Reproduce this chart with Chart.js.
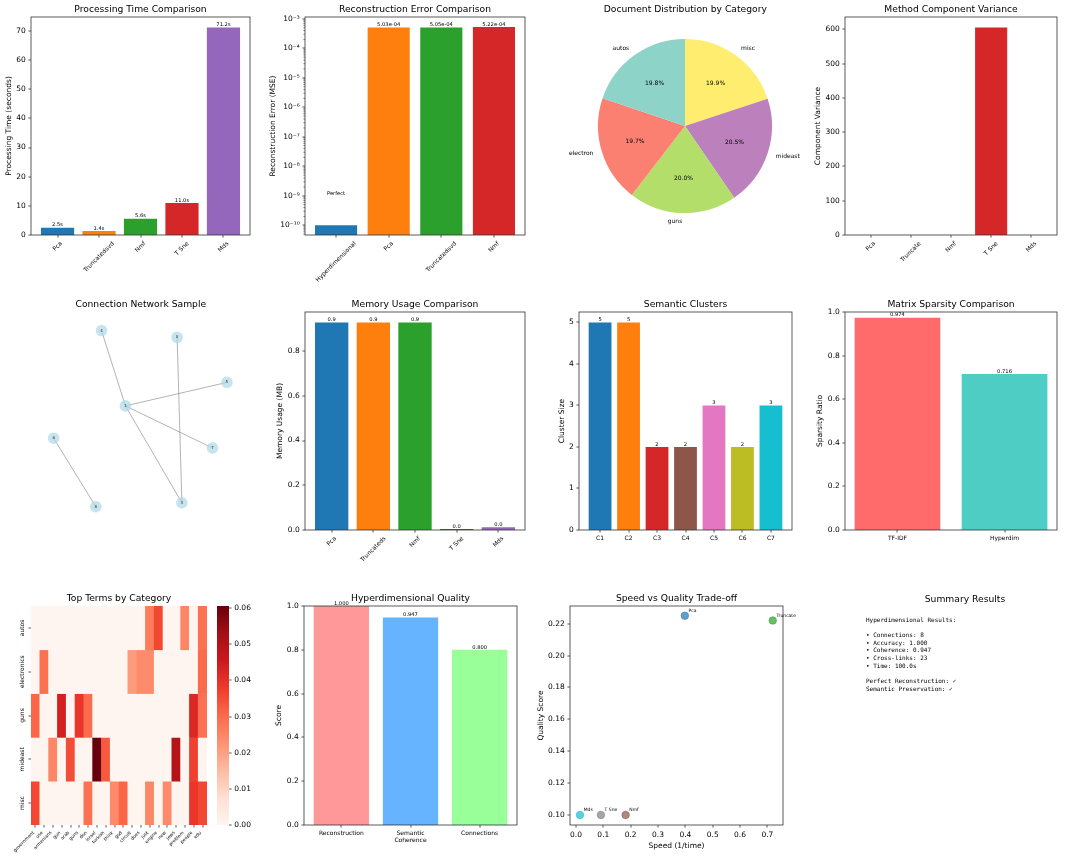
<!DOCTYPE html>
<html><head><meta charset="utf-8">
<script src="https://cdn.jsdelivr.net/npm/chart.js@4.4.0/dist/chart.umd.min.js"></script>
<style>
html,body{margin:0;padding:0;background:#fff;width:1080px;height:859px;overflow:hidden;position:relative;}
canvas{position:absolute;}
</style></head><body>
<script>
// ---------------- DATA ----------------
const timeMethods = ['Pca', 'Truncatedsvd', 'Nmf', 'T Sne', 'Mds'];
const timeValues = [2.5, 1.4, 5.6, 11.0, 71.2];
const timeTicks = [0, 10, 20, 30, 40, 50, 60, 70];

const errorMethods = ['Hyperdimensional', 'Pca', 'Truncatedsvd', 'Nmf'];
const errorValues = [1e-10, 5.03e-4, 5.05e-4, 5.22e-4];
const errorTicks = [1e-10, 1e-9, 1e-8, 1e-7, 1e-6, 1e-5, 1e-4, 1e-3];

const pieCategories = ['autos', 'electron', 'guns', 'mideast', 'misc'];
const piePercents = [19.8, 19.7, 20.0, 20.5, 19.9];

const varianceMethods = ['Pca', 'Truncate', 'Nmf', 'T Sne', 'Mds'];
const varianceValues = [0.01, 0.01, 0.001, 606, 0.02];
const varianceTicks = [0, 100, 200, 300, 400, 500, 600];

const nodeIds = ['4', '0', '5', '1', '6', '7', '3', '8'];
const nodeX = [-0.35, 0.44, 0.96, -0.10, -0.85, 0.81, 0.49, -0.41];
const nodeY = [1.19, 1.12, 0.66, 0.42, 0.09, -0.01, -0.57, -0.61];
const edges = [['4', '1'], ['1', '3'], ['1', '5'], ['1', '7'], ['0', '3'], ['6', '8']];

const memoryMethods = ['Pca', 'Truncateds', 'Nmf', 'T Sne', 'Mds'];
const memoryValues = [0.928, 0.928, 0.928, 0.005, 0.012];
const memoryTicks = [0, 0.2, 0.4, 0.6, 0.8];

const clusterLabels = ['C1', 'C2', 'C3', 'C4', 'C5', 'C6', 'C7'];
const clusterSizes = [5, 5, 2, 2, 3, 2, 3];
const clusterTicks = [0, 1, 2, 3, 4, 5];

const sparsityLabels = ['TF-IDF', 'Hyperdim'];
const sparsityValues = [0.974, 0.716];
const sparsityTicks = [0, 0.2, 0.4, 0.6, 0.8, 1.0];

const heatCategories = ['autos', 'electronics', 'guns', 'mideast', 'misc'];
const heatTerms = ['government', 'use', 'armenians', 'gun', 'arab', 'guns', 'don', 'israel', 'turkish', 'think',
  'god', 'circuit', 'does', 'just', 'engine', 'new', 'jews', 'problem', 'people', 'edu'];
const heatAutos       = [0, 0, 0, 0, 0, 0, 0, 0, 0, 0, 0, 0, 0, 0.027, 0.036, 0, 0, 0.025, 0, 0.029];
const heatElectronics = [0, 0.029, 0, 0, 0, 0, 0, 0, 0, 0, 0, 0.021, 0.024, 0.024, 0, 0, 0, 0, 0, 0.030];
const heatGuns        = [0.031, 0, 0, 0.044, 0, 0.039, 0.030, 0, 0, 0, 0, 0, 0, 0, 0, 0, 0, 0, 0.042, 0.029];
const heatMideast     = [0, 0, 0.025, 0, 0.035, 0, 0, 0.0606, 0.033, 0, 0, 0, 0, 0, 0, 0, 0.050, 0, 0.037, 0];
const heatMisc        = [0.036, 0, 0, 0, 0, 0, 0.029, 0, 0, 0.024, 0.031, 0, 0, 0.025, 0, 0.024, 0, 0, 0.039, 0.036];
const colorbarTicks = [0, 0.01, 0.02, 0.03, 0.04, 0.05, 0.06];

const qualityLabels = ['Reconstruction', 'Semantic\nCoherence', 'Connections'];
const qualityValues = [1.0, 0.947, 0.800];
const scoreTicks = [0, 0.2, 0.4, 0.6, 0.8, 1.0];

const scatterMethods = ['Pca', 'Truncate', 'Nmf', 'T Sne', 'Mds'];
const scatterSpeed = [0.398, 0.7195, 0.1815, 0.091, 0.0146];
const scatterQuality = [0.225, 0.222, 0.100, 0.100, 0.100];
const speedTicks = [0, 0.1, 0.2, 0.3, 0.4, 0.5, 0.6, 0.7];
const qualityTicks = [0.10, 0.12, 0.14, 0.16, 0.18, 0.20, 0.22];

const summaryTitle = 'Summary Results';
const summaryLines = [
  'Hyperdimensional Results:', '',
  '• Connections: 8', '• Accuracy: 1.000', '• Coherence: 0.947', '• Cross-links: 23', '• Time: 100.0s', '',
  'Perfect Reconstruction: ✓', 'Semantic Preservation: ✓'
];

// ---------------- STYLE ----------------
const TAB10 = ['#1f77b4', '#ff7f0e', '#2ca02c', '#d62728', '#9467bd', '#8c564b', '#e377c2', '#7f7f7f', '#bcbd22', '#17becf'];
const SET3 = {autos: '#8dd3c7', electron: '#fb8072', guns: '#b3de69', mideast: '#bc80bd', misc: '#ffed6f'};
const REDS = ['#fff5f0', '#fee0d2', '#fcbba1', '#fc9272', '#fb6a4a', '#ef3b2c', '#cb181d', '#a50f15', '#67000d'];
const FONTNAME = 'DejaVu Sans';
const f = s => `${s}px '${FONTNAME}', sans-serif`;

Chart.defaults.font.family = FONTNAME;
Chart.defaults.color = '#000';
Chart.defaults.animation = false;
Chart.defaults.responsive = false;
Chart.defaults.plugins.legend.display = false;
Chart.defaults.plugins.tooltip.enabled = false;

function hexToRgb(h) { return [1, 3, 5].map(k => parseInt(h.slice(k, k + 2), 16)); }
function reds(t) {
  t = Math.max(0, Math.min(1, t));
  const p = t * (REDS.length - 1);
  const i = Math.min(REDS.length - 2, Math.floor(p));
  const fr = p - i;
  const a = hexToRgb(REDS[i]), b = hexToRgb(REDS[i + 1]);
  return `rgb(${a.map((v, k) => Math.round(v + (b[k] - v) * fr)).join(',')})`;
}
function alpha(hex, a) { const [r, g, b] = hexToRgb(hex); return `rgba(${r},${g},${b},${a})`; }
const SUP = {'-': '⁻', '0': '⁰', '1': '¹', '2': '²', '3': '³', '4': '⁴', '5': '⁵', '6': '⁶', '7': '⁷', '8': '⁸', '9': '⁹'};
const logFmt = v => '10' + String(Math.round(Math.log10(v))).split('').map(c => SUP[c]).join('');
function expFmt(v) {
  const [m, e] = v.toExponential(2).split('e');
  const n = parseInt(e, 10);
  return m + 'e' + (n < 0 ? '-' : '+') + String(Math.abs(n)).padStart(2, '0');
}

function makeCanvas(x, y, w, h) {
  const c = document.createElement('canvas');
  c.width = w; c.height = h;
  c.style.left = x + 'px'; c.style.top = y + 'px';
  c.style.width = w + 'px'; c.style.height = h + 'px';
  document.body.appendChild(c);
  return c.getContext('2d');
}

const GRID = {drawOnChartArea: false, tickLength: 2.6, color: '#333', lineWidth: 0, tickColor: '#333', tickWidth: 0.8, offset: false};

function yAxis({type = 'linear', min, max, ticks, fmt, width, position = 'left'}) {
  return {
    type, min, max, position,
    afterBuildTicks: s => { s.ticks = ticks.map(v => ({value: v})); },
    afterFit: s => { s.width = width; },
    ticks: {font: {size: 7.5, family: FONTNAME}, color: '#000', padding: 2.6, callback: fmt, autoSkip: false},
    grid: GRID,
    border: {display: false}
  };
}
function xBarAxis(n, height) {
  const m = 0.05 * (n - 0.2);
  return {
    type: 'linear', min: -0.4 - m, max: n - 0.6 + m, offset: false,
    afterBuildTicks: s => { s.ticks = Array.from({length: n}, (_, i) => ({value: i})); },
    afterFit: s => { s.height = height; },
    ticks: {display: false},
    grid: GRID,
    border: {display: false}
  };
}

function drawXLabels(chart, ctx, cfg) {
  const a = chart.chartArea, xs = chart.scales.x;
  const size = cfg.xLabelSize || 6;
  ctx.font = f(size);
  const y0 = a.bottom + 5.2;
  const h = size * 1.164;
  cfg.xLabels.forEach((lab, i) => {
    const x = xs.getPixelForValue(i);
    if (cfg.xRotate) {
      const w = ctx.measureText(lab).width;
      const d = (w + h) / Math.SQRT2;
      const cx = cfg.xAlign === 'right' ? x - d / 2 : x;
      ctx.save();
      ctx.translate(cx, y0 + d / 2);
      ctx.rotate(-Math.PI / 4);
      ctx.textAlign = 'center'; ctx.textBaseline = 'middle';
      ctx.fillText(lab, 0, 0);
      ctx.restore();
    } else {
      ctx.textAlign = 'center'; ctx.textBaseline = 'top';
      lab.split('\n').forEach((ln, k) => ctx.fillText(ln, x, y0 + k * size * 1.2));
    }
  });
}

function mplPlugin(cfg) {
  return {
    id: 'mpl',
    afterDraw(chart) {
      const ctx = chart.ctx, a = chart.chartArea;
      ctx.save();
      ctx.fillStyle = '#000';
      if (cfg.frame) {
        ctx.strokeStyle = '#333'; ctx.lineWidth = 0.8;
        ctx.strokeRect(a.left, a.top, a.right - a.left, a.bottom - a.top);
      }
      if (cfg.title) {
        ctx.font = f(9.2); ctx.textAlign = 'center'; ctx.textBaseline = 'alphabetic';
        ctx.fillText(cfg.title, cfg.titleX !== undefined ? cfg.titleX : (a.left + a.right) / 2,
          cfg.titleY !== undefined ? cfg.titleY : a.top - 4.6);
      }
      if (cfg.xLabels) drawXLabels(chart, ctx, cfg);
      if (cfg.yLabels) {
        const ys = chart.scales.y;
        ctx.font = f(6);
        const h = 6 * 1.164;
        cfg.yLabels.forEach((lab, i) => {
          ctx.save();
          ctx.translate(a.left - 5.2 - h / 2, ys.getPixelForValue(i + 0.5));
          ctx.rotate(-Math.PI / 2);
          ctx.textAlign = 'center'; ctx.textBaseline = 'middle';
          ctx.fillText(lab, 0, 0);
          ctx.restore();
        });
      }
      if (cfg.yTitle) {
        const ys = chart.scales.y;
        ctx.font = f(7.5);
        let maxW = 0;
        ys.ticks.forEach(t => { maxW = Math.max(maxW, ctx.measureText(String(t.label)).width); });
        const h = 7.5 * 1.164;
        ctx.save();
        ctx.translate(a.left - 5.2 - maxW - 3 - h / 2, (a.top + a.bottom) / 2);
        ctx.rotate(-Math.PI / 2);
        ctx.textAlign = 'center'; ctx.textBaseline = 'middle';
        ctx.fillText(cfg.yTitle, 0, 0);
        ctx.restore();
      }
      if (cfg.xTitle) {
        ctx.font = f(7.5); ctx.textAlign = 'center'; ctx.textBaseline = 'top';
        ctx.fillText(cfg.xTitle, (a.left + a.right) / 2, a.bottom + 5.2 + 8.7 + 3);
      }
      if (cfg.texts) {
        const xs = chart.scales.x, ys = chart.scales.y;
        ctx.font = f(5.2); ctx.textAlign = 'center'; ctx.textBaseline = 'bottom';
        cfg.texts.forEach((t, i) => ctx.fillText(t, xs.getPixelForValue(i), ys.getPixelForValue(cfg.textVals[i])));
      }
      if (cfg.after) cfg.after(chart, ctx);
      ctx.restore();
    }
  };
}

function barPanel(o) {
  const [cx, cy, cw, ch] = o.cell;
  const [L, T, R, B] = o.box;
  const n = o.labels.length;
  const ctx = makeCanvas(cx, cy, cw, ch);
  return new Chart(ctx, {
    type: 'bar',
    data: {datasets: [{
      data: o.values.map((v, i) => ({x: i, y: v})),
      backgroundColor: o.colors, borderWidth: 0, barPercentage: 0.8, categoryPercentage: 1, inflateAmount: 0
    }]},
    options: {
      layout: {padding: {left: 0, top: T - cy, right: cx + cw - R, bottom: 0}},
      scales: {
        x: xBarAxis(n, cy + ch - B),
        y: yAxis({type: o.yType || 'linear', min: o.yMin, max: o.yMax, ticks: o.yTicks, fmt: o.yFmt, width: L - cx})
      }
    },
    plugins: [mplPlugin({title: o.title, yTitle: o.yTitle, xLabels: o.labels, xRotate: o.xRotate, frame: true,
      texts: o.texts, textVals: o.textVals || o.values, after: o.after})]
  });
}

// ---------------- PANEL 1: processing time ----------------
barPanel({
  cell: [0, 0, 270, 290], box: [31, 17, 250, 235],
  labels: timeMethods, values: timeValues, colors: TAB10.slice(0, 5),
  yMin: 0, yMax: Math.max(...timeValues) * 1.05, yTicks: timeTicks, yFmt: v => String(v),
  title: 'Processing Time Comparison', yTitle: 'Processing Time (seconds)', xRotate: true,
  texts: timeValues.map(v => v.toFixed(1) + 's')
});

// ---------------- PANEL 2: reconstruction error (log) ----------------
barPanel({
  cell: [265, 0, 275, 290], box: [305, 17, 525, 235],
  labels: errorMethods, values: errorValues, colors: TAB10.slice(0, 4),
  yType: 'logarithmic', yMin: 4.7e-11, yMax: 1.15e-3, yTicks: errorTicks, yFmt: logFmt,
  title: 'Reconstruction Error Comparison', yTitle: 'Reconstruction Error (MSE)', xRotate: true,
  texts: errorValues.map(v => v < 1e-9 ? 'Perfect' : expFmt(v)),
  textVals: errorValues.map(v => v < 1e-9 ? 1e-9 : v),
  after: (chart, ctx) => {
    const ys = chart.scales.y, a = chart.chartArea;
    ctx.strokeStyle = '#333'; ctx.lineWidth = 0.6;
    for (let e = -11; e <= -3; e++) for (let k = 2; k <= 9; k++) {
      const v = k * Math.pow(10, e);
      if (v < ys.min || v > ys.max) continue;
      const y = ys.getPixelForValue(v);
      ctx.beginPath(); ctx.moveTo(a.left, y); ctx.lineTo(a.left - 1.6, y); ctx.stroke();
    }
  }
});

// ---------------- PANEL 3: pie ----------------
(function () {
  const order = pieCategories.map((_, i) => pieCategories.length - 1 - i); // clockwise from top
  const total = piePercents.reduce((s, v) => s + v, 0);
  const ctx = makeCanvas(540, 0, 270, 290);
  new Chart(ctx, {
    type: 'pie',
    data: {labels: order.map(i => pieCategories[i]), datasets: [{
      data: order.map(i => piePercents[i]),
      backgroundColor: order.map(i => SET3[pieCategories[i]]),
      borderWidth: 0
    }]},
    options: {layout: {padding: {left: 58, top: 39, right: 38, bottom: 77}}},
    plugins: [mplPlugin({
      title: 'Document Distribution by Category', titleX: 145.3, titleY: 12.3,
      after: (chart, c) => {
        const meta = chart.getDatasetMeta(0);
        const ds = chart.data.datasets[0].data;
        meta.data.forEach((arc, i) => {
          const p = arc.getProps(['x', 'y', 'startAngle', 'endAngle', 'outerRadius'], true);
          const mid = (p.startAngle + p.endAngle) / 2, r = p.outerRadius;
          const cs = Math.cos(mid), sn = Math.sin(mid);
          c.font = f(6); c.fillStyle = '#000';
          c.textAlign = 'center'; c.textBaseline = 'middle';
          c.fillText((ds[i] / total * 100).toFixed(1) + '%', p.x + cs * 0.6 * r, p.y + sn * 0.6 * r);
          c.textAlign = cs >= 0 ? 'left' : 'right';
          c.fillText(chart.data.labels[i], p.x + cs * 1.1 * r, p.y + sn * 1.1 * r);
        });
      }
    })]
  });
})();

// ---------------- PANEL 4: component variance ----------------
barPanel({
  cell: [800, 0, 280, 290], box: [845, 17, 1057, 235],
  labels: varianceMethods, values: varianceValues, colors: TAB10.slice(0, 5),
  yMin: 0, yMax: Math.max(...varianceValues) * 1.05, yTicks: varianceTicks, yFmt: v => String(v),
  title: 'Method Component Variance', yTitle: 'Component Variance', xRotate: true
});

// ---------------- PANEL 5: network ----------------
(function () {
  const ctx = makeCanvas(0, 290, 270, 290);
  const pt = id => { const i = nodeIds.indexOf(id); return {x: nodeX[i], y: nodeY[i]}; };
  new Chart(ctx, {
    type: 'scatter',
    data: {datasets: [
      {data: nodeIds.map((_, i) => ({x: nodeX[i], y: nodeY[i]})), pointRadius: 5.8,
        pointBackgroundColor: 'rgba(173,216,230,0.7)', pointBorderWidth: 0},
      ...edges.map(([s, t]) => ({data: [pt(s), pt(t)], showLine: true, pointRadius: 0,
        borderColor: 'rgba(128,128,128,0.6)', borderWidth: 1}))
    ]},
    options: {
      layout: {padding: {top: 20}},
      scales: {x: {display: false, min: -1.35, max: 1.35}, y: {display: false, min: -1.3, max: 1.4}}
    },
    plugins: [mplPlugin({
      title: 'Connection Network Sample', titleX: 140.8, titleY: 17.3,
      after: (chart, c) => {
        const xs = chart.scales.x, ys = chart.scales.y;
        c.font = f(4); c.fillStyle = '#333'; c.textAlign = 'center'; c.textBaseline = 'middle';
        nodeIds.forEach((id, i) => c.fillText(id, xs.getPixelForValue(nodeX[i]), ys.getPixelForValue(nodeY[i])));
      }
    })]
  });
})();

// ---------------- PANEL 6: memory ----------------
barPanel({
  cell: [265, 290, 275, 290], box: [305, 312, 525, 530],
  labels: memoryMethods, values: memoryValues, colors: TAB10.slice(0, 5),
  yMin: 0, yMax: Math.max(...memoryValues) * 1.05, yTicks: memoryTicks, yFmt: v => v.toFixed(1),
  title: 'Memory Usage Comparison', yTitle: 'Memory Usage (MB)', xRotate: true,
  texts: memoryValues.map(v => v.toFixed(1))
});

// ---------------- PANEL 7: clusters ----------------
barPanel({
  cell: [535, 290, 275, 290], box: [579, 312, 792, 530],
  labels: clusterLabels, values: clusterSizes, colors: [0, 1, 3, 5, 6, 8, 9].map(i => TAB10[i]),
  yMin: 0, yMax: Math.max(...clusterSizes) * 1.05, yTicks: clusterTicks, yFmt: v => String(v),
  title: 'Semantic Clusters', yTitle: 'Cluster Size', xRotate: false,
  texts: clusterSizes.map(v => String(v))
});

// ---------------- PANEL 8: sparsity ----------------
barPanel({
  cell: [800, 290, 280, 290], box: [845, 312, 1057, 530],
  labels: sparsityLabels, values: sparsityValues, colors: ['#ff6b6b', '#4ecdc4'],
  yMin: 0, yMax: 1.0, yTicks: sparsityTicks, yFmt: v => v.toFixed(1),
  title: 'Matrix Sparsity Comparison', yTitle: 'Sparsity Ratio', xRotate: false,
  texts: sparsityValues.map(v => v.toFixed(3))
});

// ---------------- PANEL 9: heatmap + colorbar ----------------
const heatRows = [heatAutos, heatElectronics, heatGuns, heatMideast, heatMisc];
const heatMax = Math.max(...heatRows.flat());
(function () {
  const ctx = makeCanvas(0, 580, 207, 279);
  new Chart(ctx, {
    type: 'bar',
    data: {labels: heatTerms, datasets: heatRows.map((row, r) => ({
      data: row.map(() => [r, r + 1]),
      backgroundColor: row.map(v => reds(v / heatMax)),
      borderWidth: 0, barPercentage: 1, categoryPercentage: 1, grouped: false, inflateAmount: 0.3
    }))},
    options: {
      layout: {padding: {left: 0, top: 26, right: 0, bottom: 0}},
      scales: {
        x: {type: 'category', offset: true, afterFit: s => { s.height = 34; }, ticks: {display: false}, grid: GRID, border: {display: false}},
        y: {type: 'linear', min: 0, max: heatCategories.length, reverse: true,
          afterBuildTicks: s => { s.ticks = heatCategories.map((_, i) => ({value: i + 0.5})); },
          afterFit: s => { s.width = 31; }, ticks: {display: false}, grid: GRID, border: {display: false}}
      }
    },
    plugins: [mplPlugin({title: 'Top Terms by Category', xLabels: heatTerms, xRotate: true, xAlign: 'right',
      xLabelSize: 4.5, yLabels: heatCategories})]
  });
  const ctx2 = makeCanvas(207, 580, 63, 279);
  new Chart(ctx2, {
    type: 'bar',
    data: {labels: [''], datasets: [{
      data: [[0, heatMax]],
      backgroundColor: c => {
        const a = c.chart.chartArea;
        if (!a) return REDS[4];
        const g = c.chart.ctx.createLinearGradient(0, a.bottom, 0, a.top);
        REDS.forEach((col, i) => g.addColorStop(i / (REDS.length - 1), col));
        return g;
      },
      borderWidth: 0, barPercentage: 1, categoryPercentage: 1, inflateAmount: 0
    }]},
    options: {
      layout: {padding: {left: 10, top: 26, right: 0, bottom: 34}},
      scales: {
        x: {display: false},
        y: yAxis({min: 0, max: heatMax, ticks: colorbarTicks, fmt: v => v.toFixed(2), width: 41, position: 'right'})
      }
    }
  });
})();

// ---------------- PANEL 10: quality ----------------
barPanel({
  cell: [265, 580, 275, 279], box: [304, 606, 517, 825],
  labels: qualityLabels, values: qualityValues, colors: ['#ff9999', '#66b3ff', '#99ff99'],
  yMin: 0, yMax: 1.0, yTicks: scoreTicks, yFmt: v => v.toFixed(1),
  title: 'Hyperdimensional Quality', yTitle: 'Score', xRotate: false,
  texts: qualityValues.map(v => v.toFixed(3))
});

// ---------------- PANEL 11: scatter ----------------
(function () {
  const colors = ['#1f77b4', '#2ca02c', '#8c564b', '#7f7f7f', '#17becf'];
  const ctx = makeCanvas(525, 580, 285, 279);
  new Chart(ctx, {
    type: 'scatter',
    data: {datasets: [{
      data: scatterSpeed.map((x, i) => ({x, y: scatterQuality[i]})),
      pointRadius: 3.75,
      pointBackgroundColor: colors.map(c => alpha(c, 0.7)),
      pointBorderColor: colors.map(c => alpha(c, 0.9)), pointBorderWidth: 0.6
    }]},
    options: {
      layout: {padding: {left: 0, top: 26, right: 27, bottom: 0}},
      scales: {
        x: {type: 'linear', min: -0.0219, max: 0.757,
          afterBuildTicks: s => { s.ticks = speedTicks.map(v => ({value: v})); },
          afterFit: s => { s.height = 34; },
          ticks: {font: {size: 7.5, family: FONTNAME}, color: '#000', padding: 2.6, maxRotation: 0, autoSkip: false, callback: v => v.toFixed(1)},
          grid: GRID, border: {display: false}},
        y: yAxis({min: 0.0937, max: 0.2311, ticks: qualityTicks, fmt: v => v.toFixed(2), width: 45})
      }
    },
    plugins: [mplPlugin({
      title: 'Speed vs Quality Trade-off', frame: true, yTitle: 'Quality Score', xTitle: 'Speed (1/time)',
      after: (chart, c) => {
        const xs = chart.scales.x, ys = chart.scales.y;
        c.font = f(4.5); c.fillStyle = '#000'; c.textAlign = 'left'; c.textBaseline = 'alphabetic';
        scatterMethods.forEach((m, i) => c.fillText(m, xs.getPixelForValue(scatterSpeed[i]) + 3.75, ys.getPixelForValue(scatterQuality[i]) - 3.75));
      }
    })]
  });
})();

// ---------------- PANEL 12: summary text ----------------
(function () {
  const ctx = makeCanvas(840, 580, 240, 200);
  ctx.fillStyle = '#000';
  ctx.font = f(9.2); ctx.textAlign = 'center'; ctx.textBaseline = 'alphabetic';
  ctx.fillText(summaryTitle, 965 - 840, 602.3 - 580);
  ctx.font = "6px 'DejaVu Sans Mono', monospace";
  ctx.textAlign = 'left'; ctx.textBaseline = 'middle';
  summaryLines.forEach((ln, k) => ctx.fillText(ln, 866 - 840, 620.3 - 580 + k * 7.63));
})();
</script>
</body></html>
